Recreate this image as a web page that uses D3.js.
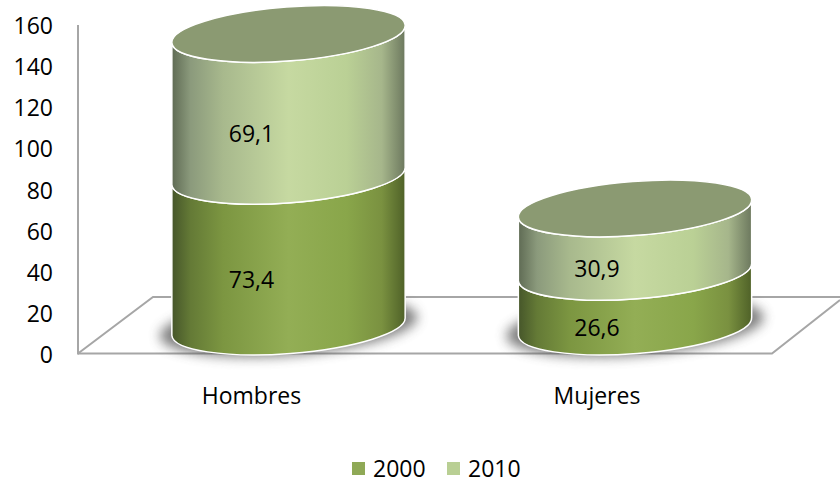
<!DOCTYPE html>
<html><head><meta charset="utf-8">
<script src="https://cdn.jsdelivr.net/npm/d3@7"></script>
<style>html,body{margin:0;background:#fff}svg{display:block}text{font-family:"Open Sans",sans-serif;fill:#000}</style>
</head><body><svg id="c" width="840" height="482"></svg>
<script>
const categories = ["Hombres", "Mujeres"];
const seriesNames = ["2000", "2010"];
const values2000 = [73.4, 26.6];
const values2010 = [69.1, 30.9];
const labels2000 = ["73,4", "26,6"];
const labels2010 = ["69,1", "30,9"];
const yTicks = [0, 20, 40, 60, 80, 100, 120, 140, 160];

const svg = d3.select("#c");
const y = d3.scaleLinear().domain([0, 160]).range([353.5, 25]);
const x = d3.scalePoint().domain(categories).range([288.5, 635]);
const rx = 117, ry = 27, tilt = -4.4, base = 27, labelShift = -37;
const rad = tilt * Math.PI / 180;
const ex = rx * Math.cos(rad), ey = rx * Math.sin(rad);
const fontSize = 23;

const defs = svg.append("defs");
const grad = (id, stops) => {
  const g = defs.append("linearGradient").attr("id", id).attr("x1", 0).attr("x2", 1).attr("y1", 0).attr("y2", 0);
  stops.forEach(([o, c]) => g.append("stop").attr("offset", o).attr("stop-color", c));
};
grad("g2000", [[0,"#46562a"],[.08,"#647a36"],[.22,"#7c9641"],[.5,"#93ae55"],[.75,"#89a64a"],[.9,"#7a9140"],[1,"#4f6128"]]);
grad("g2010", [[0,"#5f6b54"],[.08,"#8b9a7c"],[.22,"#a8b98d"],[.5,"#c6d9a1"],[.75,"#bad095"],[.9,"#a6b68b"],[1,"#6c785e"]]);
defs.append("filter").attr("id", "blur").attr("x", "-30%").attr("y", "-60%").attr("width", "160%").attr("height", "220%")
  .append("feGaussianBlur").attr("stdDeviation", 6);

// floor
const floor = svg.append("g").attr("fill", "none").attr("stroke", "#a6a6a6").attr("stroke-width", 2);
floor.append("path").attr("d", d3.line()([[78, y(0)], [153, 297], [840, 297]]));
floor.append("path").attr("d", d3.line()([[78, y(0)], [772, y(0)], [840, 300]]));

// axis
const ax = svg.append("g").attr("transform", "translate(78,0)")
  .call(d3.axisLeft(y).tickValues(yTicks).tickSize(0).tickPadding(25).tickFormat(d3.format("d")));
ax.select(".domain").attr("stroke", "#a6a6a6").attr("stroke-width", 2).attr("d", `M0,${y(0)+1}V25`);
ax.selectAll("text").attr("font-size", fontSize).attr("font-family", "Open Sans").attr("fill", "#000").attr("dy", ".38em");

const wall = (cx, v0, v1) => {
  const a = y(v0) - base, b = y(v1) - base;
  return `M${cx-ex},${a-ey}A${rx},${ry},${tilt},0,0,${cx+ex},${a+ey}L${cx+ex},${b+ey}A${rx},${ry},${tilt},0,1,${cx-ex},${b-ey}Z`;
};

categories.forEach((c, i) => {
  const cx = x(c), v1 = values2000[i], v2 = v1 + values2010[i];
  svg.append("ellipse").attr("cx", cx).attr("cy", y(0) - base)
    .attr("rx", rx + 12).attr("ry", ry + 2).attr("fill", "#4a4a4a").attr("opacity", .7)
    .attr("transform", `rotate(${tilt} ${cx} ${y(0)-base})`).attr("filter", "url(#blur)");
  svg.append("path").attr("d", wall(cx, 0, v1)).attr("fill", "url(#g2000)").attr("stroke", "#fff").attr("stroke-width", 1.5);
  svg.append("path").attr("d", wall(cx, v1, v2)).attr("fill", "url(#g2010)").attr("stroke", "#fff").attr("stroke-width", 1.5);
  svg.append("ellipse").attr("cx", cx).attr("cy", y(v2) - base).attr("rx", rx).attr("ry", ry)
    .attr("transform", `rotate(${tilt} ${cx} ${y(v2)-base})`)
    .attr("fill", "#8b9a72").attr("stroke", "#fff").attr("stroke-width", 1.5);
  const lx = cx + labelShift + (i ? -1 : 0);
  svg.append("text").attr("x", lx).attr("y", y(v1 / 2) + 1.5).attr("dy", ".36em").attr("text-anchor", "middle").attr("font-size", fontSize).text(labels2000[i]);
  svg.append("text").attr("x", lx).attr("y", y(v1 + values2010[i] / 2) + 1.5).attr("dy", ".36em").attr("text-anchor", "middle").attr("font-size", fontSize).text(labels2010[i]);
  svg.append("text").attr("x", lx).attr("y", 396).attr("dy", ".36em").attr("text-anchor", "middle").attr("font-size", fontSize).text(c);
});

// legend
const legendColors = ["#8fa956", "#b9cf94"];
const legendX = d3.scalePoint().domain(seriesNames).range([352, 447]);
seriesNames.forEach((s, i) => {
  svg.append("rect").attr("x", legendX(s)).attr("y", 462).attr("width", 13).attr("height", 13).attr("fill", legendColors[i]);
  svg.append("text").attr("x", legendX(s) + 21).attr("y", 468.5).attr("dy", ".36em").attr("font-size", fontSize).text(s);
});
</script></body></html>
